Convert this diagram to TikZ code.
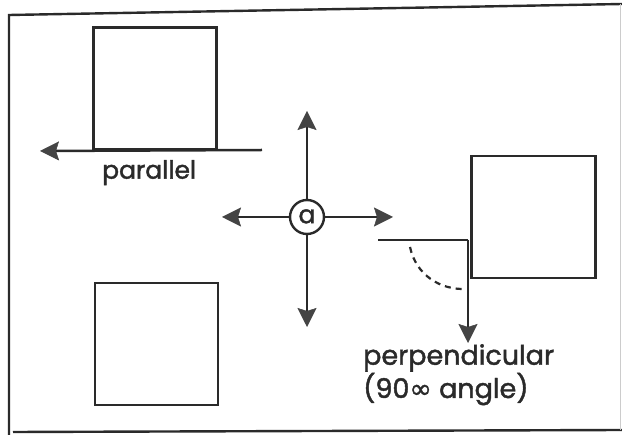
\documentclass[tikz,border=0pt]{standalone}
\usepackage{fontspec}
\setmainfont{Poppins}
\newfontfamily\comic[FakeBold=1.6]{Poppins}
\newfontfamily\symfont[FakeBold=1.2]{DejaVu Sans}
\usetikzlibrary{arrows.meta}
\definecolor{ink}{HTML}{2A2A2A}
\definecolor{tipc}{HTML}{444444}
\tikzset{
  box/.style={draw=ink, line width=2.5pt},
  ln/.style={draw=ink, line width=2.5pt},
  arr/.style={ln, -{Stealth[length=19pt,width=19pt,inset=3pt,color=tipc,fill=tipc,line width=0.5pt]}},
  lbl/.style={text=ink, inner sep=0pt},
}
\begin{document}
\begin{tikzpicture}[x=1pt,y=-1pt]
\useasboundingbox (0,0) rectangle (622,435);
% frame
\draw[ink, line width=2.4pt] (9,435) -- (9,15) -- (622,4);
\draw[ink, line width=2.4pt] (13,432) -- (622,430);
\draw[gray!40, line width=0.8pt] (620,4) -- (620,430);
% squares
\node[box, minimum width=123pt, minimum height=122pt, inner sep=0pt] (sq1) at (155,88.5) {};
\node[box, minimum width=123pt, minimum height=122pt, inner sep=0pt] (sq2) at (156.5,344) {};
\node[box, minimum width=124pt, minimum height=122pt, inner sep=0pt] (sq3) at (533.5,217) {};
% parallel
\coordinate (pr) at (262,150);
\coordinate (pl) at (40,151);
\draw[arr] (pr) -- (pl);
\node[lbl, anchor=north west, font=\comic\fontsize{25}{30}\selectfont] (par) at (102,160) {parallel};
% centre
\node[draw=ink, line width=2.4pt, circle, minimum size=34pt, inner sep=0pt, font=\comic\fontsize{25}{30}\selectfont, text=ink] (a) at (307,217) {\raisebox{1.5pt}{a}};
\coordinate (up) at (307,111);
\coordinate (dn) at (307,327);
\coordinate (lf) at (222,217);
\coordinate (rt) at (393,217);
\draw[arr] (a.north) -- (up);
\draw[arr] (a.south) -- (dn);
\draw[arr] (a.west) -- (lf);
\draw[arr] (a.east) -- (rt);
% perpendicular
\coordinate (h0) at (378,240);
\coordinate (cn) at (468,240);
\coordinate (vt) at (468,343);
\draw[ln] (h0) -- (cn);
\draw[arr] (cn) -- (vt);
\draw[ink, line width=2.2pt, dash pattern=on 6pt off 5pt] (410,247) .. controls (416,275) and (440,290) .. (466,289);
\node[lbl, anchor=north west, align=left, font=\comic\fontsize{27}{31}\selectfont] (perp) at (363,344) {perpendicular\\(90{\symfont ∞} angle)};
\end{tikzpicture}
\end{document}
